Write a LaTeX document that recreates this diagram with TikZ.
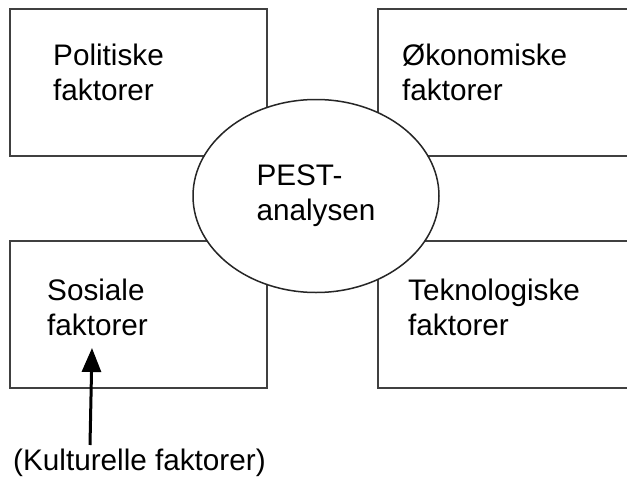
\documentclass[tikz,border=0pt]{standalone}
\usepackage{fontspec}
\setmainfont{Liberation Sans}
\usetikzlibrary{shapes.geometric, arrows.meta}
\tikzset{
  faktor boks/.style={
    draw=black!75,
    line width=2pt,
    anchor=north west,
    minimum width=257pt,
    minimum height=147pt,
    inner sep=0pt,
  },
  faktor tekst/.style={
    anchor=base west,
    align=left,
    inner sep=0pt,
    font=\fontsize{29.7}{35}\selectfont,
  },
  pest ellipse/.style={
    ellipse,
    draw=black!85,
    line width=1.5pt,
    fill=white,
    minimum width=246pt,
    minimum height=193pt,
    inner sep=0pt,
    align=left,
    font=\fontsize{29.7}{35}\selectfont,
  },
  kultur pil/.style={
    line width=3pt,
    -{Triangle[length=24pt, width=19pt]},
  },
}
\begin{document}
\begin{tikzpicture}[x=1pt, y=-1pt]
      \clip (0,0) rectangle (627,482);
      \fill[white] (0,0) rectangle (627,482);

      \node[faktor boks] (politisk) at (9,8) {};
      \node[faktor boks, minimum width=270pt] (okonomisk) at (377,8) {};
      \node[faktor boks] (sosial) at (9,240) {};
      \node[faktor boks, minimum width=270pt] (teknologisk) at (377,240) {};

      \node[pest ellipse] (pest) at (316,196) {PEST-\\analysen};

      \node[faktor tekst] (politisk tekst) at (53,100) {Politiske\\faktorer};
      \node[faktor tekst] (okonomisk tekst) at (402,100) {Økonomiske\\faktorer};
      \node[faktor tekst] (sosial tekst) at (47,335) {Sosiale\\faktorer};
      \node[faktor tekst] (teknologisk tekst) at (408,335) {Teknologiske\\faktorer};
      \node[faktor tekst] (kultur) at (13,470) {(Kulturelle faktorer)};

      \coordinate (pilstart) at (90,445);
      \coordinate (pilspiss) at (92,348);
      \draw[kultur pil] (pilstart) -- (pilspiss);
    \end{tikzpicture}
\end{document}
